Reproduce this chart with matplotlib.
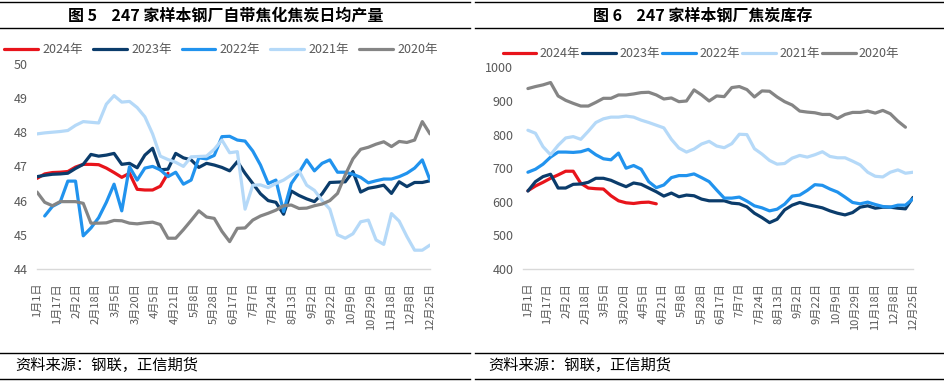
import matplotlib
matplotlib.use('Agg')
import matplotlib.pyplot as plt
import numpy as np

plt.rcParams['font.family'] = ['Noto Sans CJK SC', 'DejaVu Sans']

nan = np.nan
years = ['2024年', '2023年', '2022年', '2021年', '2020年']
colors = ['#E8141B', '#0B3C6B', '#2193EE', '#B5D9F8', '#858585']

xlabels = ['1月1日', '1月17日', '2月2日', '2月18日', '3月5日', '3月20日', '4月5日',
           '4月21日', '5月8日', '5月28日', '6月17日', '7月7日', '7月24日', '8月13日',
           '9月2日', '9月22日', '10月9日', '10月29日', '11月18日', '12月8日', '12月25日']

# 图5 自带焦化焦炭日均产量 (万吨)
prod_2024 = [46.65, 46.78, 46.82, 46.83, 46.85, 46.98, 47.06, 47.06, 47.05, 46.95,
             46.82, 46.68, 46.8, 46.33, 46.31, 46.31, 46.42, 46.8]
prod_2023 = [46.7, 46.74, 46.77, 46.78, 46.8, 46.94, 47.06, 47.35, 47.3, 47.33,
             47.38, 47.06, 47.09, 46.96, 47.33, 47.53, 46.9, 46.92, 47.38, 47.25,
             47.19, 46.97, 47.09, 47.04, 46.97, 46.87, 47.14, 46.8, 46.5, 46.2,
             46.0, 45.95, 45.6, 46.28, 46.15, 46.05, 45.97, 46.2, 46.53, 46.54,
             46.55, 46.85, 46.25, 46.36, 46.4, 46.45, 46.21, 46.55, 46.41, 46.53,
             46.53, 46.58]
prod_2022 = [nan, 45.55, 45.83, 45.95, 46.57, 46.57, 44.97, 45.2, 45.5, 45.95,
             46.48, 45.7, 46.99, 46.6, 46.95, 47.0, 46.9, 46.7, 46.83, 46.48,
             46.6, 47.25, 47.22, 47.32, 47.87, 47.88, 47.77, 47.74, 47.45, 47.04,
             46.5, 46.6, 45.68, 46.5, 46.82, 47.19, 46.87, 47.09, 47.19, 46.83,
             46.83, 46.77, 46.68, 46.52, 46.58, 46.63, 46.63, 46.7, 46.8, 46.95,
             47.19, 46.6]
prod_2021 = [47.95, 47.98, 48.0, 48.02, 48.05, 48.2, 48.31, 48.29, 48.27, 48.82,
             49.07, 48.88, 48.9, 48.72, 48.45, 47.95, 47.3, 47.2, 47.12, 47.0,
             47.28, 47.29, 47.3, 47.5, 47.77, 47.4, 47.43, 45.75, 46.45, 46.46,
             46.38, 46.5, 46.6, 46.75, 46.87, 46.45, 46.3, 46.0, 45.75, 45.0,
             44.9, 45.03, 45.38, 45.43, 44.85, 44.72, 45.62, 45.4, 44.95, 44.55,
             44.55, 44.7]
prod_2020 = [46.25, 45.95, 45.85, 45.97, 45.97, 45.97, 45.92, 45.34, 45.34, 45.35,
             45.42, 45.41, 45.34, 45.32, 45.35, 45.37, 45.3, 44.9, 44.9, 45.15,
             45.42, 45.7, 45.52, 45.48, 45.1, 44.8, 45.19, 45.2, 45.43, 45.55,
             45.63, 45.72, 45.85, 45.87, 45.77, 45.78, 45.85, 45.9, 46.0, 46.21,
             46.75, 47.22, 47.5, 47.56, 47.65, 47.72, 47.58, 47.73, 47.7, 47.77,
             48.31, 47.95]

# 图6 焦炭库存 (万吨)
stock_2024 = [633, 647, 658, 670, 680, 691, 691, 655, 641, 639, 638, 618, 603, 597,
              595, 598, 599, 594]
stock_2023 = [632, 660, 675, 682, 641, 641, 652, 653, 658, 670, 670, 664, 654, 645,
              656, 652, 641, 630, 617, 626, 615, 620, 618, 608, 603, 603, 603, 596,
              594, 585, 566, 553, 538, 548, 576, 590, 598, 592, 587, 582, 573, 566,
              561, 568, 584, 588, 581, 584, 584, 581, 579, 613]
stock_2022 = [688, 697, 712, 733, 748, 748, 747, 749, 756, 740, 728, 725, 745, 700,
              708, 697, 660, 642, 650, 672, 678, 678, 683, 672, 660, 635, 611, 611,
              614, 602, 588, 582, 573, 578, 593, 617, 620, 634, 651, 649, 638, 629,
              614, 598, 594, 599, 592, 586, 584, 590, 590, 609]
stock_2021 = [813, 804, 764, 740, 768, 790, 794, 786, 810, 836, 847, 852, 852, 855,
              852, 843, 836, 828, 820, 786, 760, 748, 757, 772, 780, 766, 761, 773,
              801, 800, 758, 742, 723, 712, 714, 730, 738, 733, 740, 749, 735, 731,
              731, 721, 710, 688, 676, 674, 688, 695, 685, 688]
stock_2020 = [937, 943, 948, 955, 915, 902, 893, 885, 885, 896, 908, 908, 918, 918,
              921, 925, 926, 918, 906, 909, 898, 900, 933, 918, 900, 915, 913, 940,
              943, 934, 912, 930, 929, 912, 898, 888, 870, 867, 865, 860, 860, 848,
              860, 866, 866, 870, 864, 872, 862, 840, 822, nan]

prod = [prod_2024, prod_2023, prod_2022, prod_2021, prod_2020]
stock = [stock_2024, stock_2023, stock_2022, stock_2021, stock_2020]
npts = 52

fig = plt.figure(figsize=(9.45, 3.84), dpi=100)
W, H = 945, 384
ax1 = fig.add_axes([37 / W, 1 - 269 / H, 393 / W, (269 - 63.8) / H])
ax2 = fig.add_axes([523 / W, 1 - 269 / H, 390 / W, (269 - 67.4) / H])

grey_text = '#595959'


def style(ax, series, ylim, yticks, xlim):
    for vals, c, lab in zip(series, colors, years):
        ax.plot(np.arange(len(vals)), vals, color=c, lw=2.3, label=lab,
                solid_joinstyle='round', solid_capstyle='round')
    ax.set_ylim(*ylim)
    ax.set_yticks(yticks)
    ax.set_xlim(*xlim)
    ax.set_xticks(np.linspace(0, npts - 1, len(xlabels)))
    ax.set_xticklabels(xlabels, rotation=90)
    for s in ['top', 'right', 'left']:
        ax.spines[s].set_visible(False)
    ax.spines['bottom'].set_color('#D9D9D9')
    ax.spines['bottom'].set_linewidth(1.0)
    ax.tick_params(axis='x', length=0, pad=10, labelsize=8, labelcolor=grey_text)
    ax.tick_params(axis='y', length=0, pad=7, labelsize=9, labelcolor=grey_text)
    ax.patch.set_alpha(0)


style(ax1, prod, (44, 50), range(44, 51), (0, npts - 1))
style(ax2, stock, (400, 1000), range(400, 1001, 100), (-0.65, npts - 1))

ax1.legend(ncol=5, frameon=False, loc='center', bbox_to_anchor=(221 / W, 1 - 50 / H),
           bbox_transform=fig.transFigure, fontsize=9, labelcolor=grey_text,
           handlelength=2.7, handletextpad=0.35, columnspacing=0.8, borderpad=0)
ax2.legend(ncol=5, frameon=False, loc='center', bbox_to_anchor=(701 / W, 1 - 53.5 / H),
           bbox_transform=fig.transFigure, fontsize=9, labelcolor=grey_text,
           handlelength=2.7, handletextpad=0.25, columnspacing=0.2, borderpad=0)

# titles, frame lines and source notes
fig.text(226 / W, 1 - 15.5 / H, '图 5    247 家样本钢厂自带焦化焦炭日均产量',
         ha='center', va='center', fontsize=11.5, fontweight='bold')
fig.text(703 / W, 1 - 15.5 / H, '图 6    247 家样本钢厂焦炭库存',
         ha='center', va='center', fontsize=11.5, fontweight='bold')
for yy in [1.7, 28, 353, 379]:
    fig.add_artist(plt.Line2D([0, 0.497], [1 - yy / H] * 2, color='black', lw=1.0))
    fig.add_artist(plt.Line2D([0.503, 1], [1 - yy / H] * 2, color='black', lw=1.0))
fig.text(15 / W, 1 - 365 / H, '资料来源：钢联，正信期货', ha='left', va='center',
         fontsize=11)
fig.text(488 / W, 1 - 365 / H, '资料来源：钢联，正信期货', ha='left', va='center',
         fontsize=11)

fig.savefig('out.png', dpi=100)
